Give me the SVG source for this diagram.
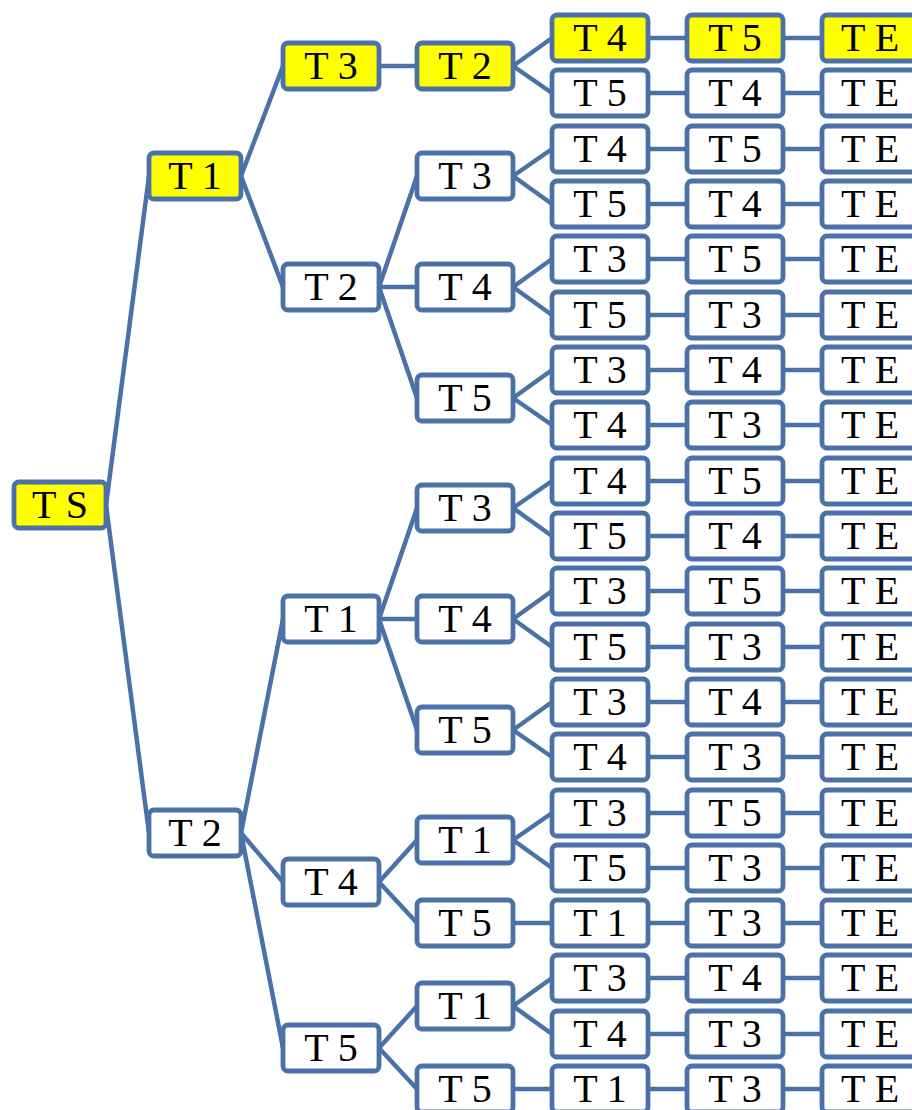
<svg xmlns="http://www.w3.org/2000/svg" width="912" height="1110" viewBox="0 0 912 1110">
<style>
.b{fill:#fff;stroke:#4a72a8;stroke-width:4.8}
.y{fill:#ffff00}
.t{font-family:"Liberation Serif","DejaVu Serif",serif;font-size:40px;text-anchor:middle;fill:#000}
.c line{stroke:#4a72a8;stroke-width:4.5;stroke-linecap:round}
</style>
<rect width="912" height="1110" fill="#fff"/>
<g id="connectors" class="c">
<line x1="106" y1="505" x2="149" y2="176"/><line x1="106" y1="505" x2="149" y2="833"/>
<line x1="241" y1="176" x2="283" y2="66"/><line x1="241" y1="176" x2="283" y2="287"/>
<line x1="241" y1="833" x2="283" y2="619"/><line x1="241" y1="833" x2="283" y2="882"/><line x1="241" y1="833" x2="283" y2="1048"/>
<line x1="379" y1="66" x2="417" y2="66"/>
<line x1="379" y1="287" x2="417" y2="176"/><line x1="379" y1="287" x2="417" y2="287"/><line x1="379" y1="287" x2="417" y2="398"/>
<line x1="379" y1="619" x2="417" y2="508"/><line x1="379" y1="619" x2="417" y2="619"/><line x1="379" y1="619" x2="417" y2="730"/>
<line x1="379" y1="882" x2="417" y2="840"/><line x1="379" y1="882" x2="417" y2="923"/>
<line x1="379" y1="1048" x2="417" y2="1006"/><line x1="379" y1="1048" x2="417" y2="1089"/>
<line x1="513" y1="66" x2="552" y2="38"/><line x1="513" y1="66" x2="552" y2="93"/>
<line x1="513" y1="176" x2="552" y2="149"/><line x1="513" y1="176" x2="552" y2="204"/>
<line x1="513" y1="287" x2="552" y2="259"/><line x1="513" y1="287" x2="552" y2="315"/>
<line x1="513" y1="398" x2="552" y2="370"/><line x1="513" y1="398" x2="552" y2="425"/>
<line x1="513" y1="508" x2="552" y2="481"/><line x1="513" y1="508" x2="552" y2="536"/>
<line x1="513" y1="619" x2="552" y2="591"/><line x1="513" y1="619" x2="552" y2="647"/>
<line x1="513" y1="730" x2="552" y2="702"/><line x1="513" y1="730" x2="552" y2="757"/>
<line x1="513" y1="840" x2="552" y2="813"/><line x1="513" y1="840" x2="552" y2="868"/>
<line x1="513" y1="923" x2="552" y2="923"/>
<line x1="513" y1="1006" x2="552" y2="978"/><line x1="513" y1="1006" x2="552" y2="1034"/>
<line x1="513" y1="1089" x2="552" y2="1089"/>
<line x1="648" y1="38" x2="822" y2="38"/><line x1="648" y1="93" x2="822" y2="93"/>
<line x1="648" y1="149" x2="822" y2="149"/><line x1="648" y1="204" x2="822" y2="204"/>
<line x1="648" y1="259" x2="822" y2="259"/><line x1="648" y1="315" x2="822" y2="315"/>
<line x1="648" y1="370" x2="822" y2="370"/><line x1="648" y1="425" x2="822" y2="425"/>
<line x1="648" y1="481" x2="822" y2="481"/><line x1="648" y1="536" x2="822" y2="536"/>
<line x1="648" y1="591" x2="822" y2="591"/><line x1="648" y1="647" x2="822" y2="647"/>
<line x1="648" y1="702" x2="822" y2="702"/><line x1="648" y1="757" x2="822" y2="757"/>
<line x1="648" y1="813" x2="822" y2="813"/><line x1="648" y1="868" x2="822" y2="868"/>
<line x1="648" y1="923" x2="822" y2="923"/><line x1="648" y1="978" x2="822" y2="978"/>
<line x1="648" y1="1034" x2="822" y2="1034"/><line x1="648" y1="1089" x2="822" y2="1089"/>
</g>
<g id="n_ts"><rect class="b y" x="14" y="482" width="92" height="46" rx="5"/><text class="t" x="60" y="518">T S</text></g>
<g id="n1_t1"><rect class="b y" x="149" y="153" width="92" height="46" rx="5"/><text class="t" x="195" y="189">T 1</text></g>
<g id="n1_t2"><rect class="b" x="149" y="810" width="92" height="46" rx="5"/><text class="t" x="195" y="846">T 2</text></g>
<g id="n2_a"><rect class="b y" x="283" y="43" width="96" height="46" rx="5"/><text class="t" x="331" y="79">T 3</text></g>
<g id="n2_b"><rect class="b" x="283" y="264" width="96" height="46" rx="5"/><text class="t" x="331" y="300">T 2</text></g>
<g id="n2_c"><rect class="b" x="283" y="596" width="96" height="46" rx="5"/><text class="t" x="331" y="632">T 1</text></g>
<g id="n2_d"><rect class="b" x="283" y="859" width="96" height="46" rx="5"/><text class="t" x="331" y="895">T 4</text></g>
<g id="n2_e"><rect class="b" x="283" y="1025" width="96" height="46" rx="5"/><text class="t" x="331" y="1061">T 5</text></g>
<g id="n3_a"><rect class="b y" x="417" y="43" width="96" height="46" rx="5"/><text class="t" x="465" y="79">T 2</text></g>
<g id="n3_b"><rect class="b" x="417" y="153" width="96" height="46" rx="5"/><text class="t" x="465" y="189">T 3</text></g>
<g id="n3_c"><rect class="b" x="417" y="264" width="96" height="46" rx="5"/><text class="t" x="465" y="300">T 4</text></g>
<g id="n3_d"><rect class="b" x="417" y="375" width="96" height="46" rx="5"/><text class="t" x="465" y="411">T 5</text></g>
<g id="n3_e"><rect class="b" x="417" y="485" width="96" height="46" rx="5"/><text class="t" x="465" y="521">T 3</text></g>
<g id="n3_f"><rect class="b" x="417" y="596" width="96" height="46" rx="5"/><text class="t" x="465" y="632">T 4</text></g>
<g id="n3_g"><rect class="b" x="417" y="707" width="96" height="46" rx="5"/><text class="t" x="465" y="743">T 5</text></g>
<g id="n3_h"><rect class="b" x="417" y="817" width="96" height="46" rx="5"/><text class="t" x="465" y="853">T 1</text></g>
<g id="n3_i"><rect class="b" x="417" y="900" width="96" height="46" rx="5"/><text class="t" x="465" y="936">T 5</text></g>
<g id="n3_j"><rect class="b" x="417" y="983" width="96" height="46" rx="5"/><text class="t" x="465" y="1019">T 1</text></g>
<g id="n3_k"><rect class="b" x="417" y="1066" width="96" height="46" rx="5"/><text class="t" x="465" y="1102">T 5</text></g>
<g id="n4_0"><rect class="b y" x="552" y="15" width="96" height="46" rx="5"/><text class="t" x="600" y="51">T 4</text></g>
<g id="n4_1"><rect class="b" x="552" y="70" width="96" height="46" rx="5"/><text class="t" x="600" y="106">T 5</text></g>
<g id="n4_2"><rect class="b" x="552" y="126" width="96" height="46" rx="5"/><text class="t" x="600" y="162">T 4</text></g>
<g id="n4_3"><rect class="b" x="552" y="181" width="96" height="46" rx="5"/><text class="t" x="600" y="217">T 5</text></g>
<g id="n4_4"><rect class="b" x="552" y="236" width="96" height="46" rx="5"/><text class="t" x="600" y="272">T 3</text></g>
<g id="n4_5"><rect class="b" x="552" y="292" width="96" height="46" rx="5"/><text class="t" x="600" y="328">T 5</text></g>
<g id="n4_6"><rect class="b" x="552" y="347" width="96" height="46" rx="5"/><text class="t" x="600" y="383">T 3</text></g>
<g id="n4_7"><rect class="b" x="552" y="402" width="96" height="46" rx="5"/><text class="t" x="600" y="438">T 4</text></g>
<g id="n4_8"><rect class="b" x="552" y="458" width="96" height="46" rx="5"/><text class="t" x="600" y="494">T 4</text></g>
<g id="n4_9"><rect class="b" x="552" y="513" width="96" height="46" rx="5"/><text class="t" x="600" y="549">T 5</text></g>
<g id="n4_10"><rect class="b" x="552" y="568" width="96" height="46" rx="5"/><text class="t" x="600" y="604">T 3</text></g>
<g id="n4_11"><rect class="b" x="552" y="624" width="96" height="46" rx="5"/><text class="t" x="600" y="660">T 5</text></g>
<g id="n4_12"><rect class="b" x="552" y="679" width="96" height="46" rx="5"/><text class="t" x="600" y="715">T 3</text></g>
<g id="n4_13"><rect class="b" x="552" y="734" width="96" height="46" rx="5"/><text class="t" x="600" y="770">T 4</text></g>
<g id="n4_14"><rect class="b" x="552" y="790" width="96" height="46" rx="5"/><text class="t" x="600" y="826">T 3</text></g>
<g id="n4_15"><rect class="b" x="552" y="845" width="96" height="46" rx="5"/><text class="t" x="600" y="881">T 5</text></g>
<g id="n4_16"><rect class="b" x="552" y="900" width="96" height="46" rx="5"/><text class="t" x="600" y="936">T 1</text></g>
<g id="n4_17"><rect class="b" x="552" y="955" width="96" height="46" rx="5"/><text class="t" x="600" y="991">T 3</text></g>
<g id="n4_18"><rect class="b" x="552" y="1011" width="96" height="46" rx="5"/><text class="t" x="600" y="1047">T 4</text></g>
<g id="n4_19"><rect class="b" x="552" y="1066" width="96" height="46" rx="5"/><text class="t" x="600" y="1102">T 1</text></g>
<g id="n5_0"><rect class="b y" x="687" y="15" width="96" height="46" rx="5"/><text class="t" x="735" y="51">T 5</text></g>
<g id="n5_1"><rect class="b" x="687" y="70" width="96" height="46" rx="5"/><text class="t" x="735" y="106">T 4</text></g>
<g id="n5_2"><rect class="b" x="687" y="126" width="96" height="46" rx="5"/><text class="t" x="735" y="162">T 5</text></g>
<g id="n5_3"><rect class="b" x="687" y="181" width="96" height="46" rx="5"/><text class="t" x="735" y="217">T 4</text></g>
<g id="n5_4"><rect class="b" x="687" y="236" width="96" height="46" rx="5"/><text class="t" x="735" y="272">T 5</text></g>
<g id="n5_5"><rect class="b" x="687" y="292" width="96" height="46" rx="5"/><text class="t" x="735" y="328">T 3</text></g>
<g id="n5_6"><rect class="b" x="687" y="347" width="96" height="46" rx="5"/><text class="t" x="735" y="383">T 4</text></g>
<g id="n5_7"><rect class="b" x="687" y="402" width="96" height="46" rx="5"/><text class="t" x="735" y="438">T 3</text></g>
<g id="n5_8"><rect class="b" x="687" y="458" width="96" height="46" rx="5"/><text class="t" x="735" y="494">T 5</text></g>
<g id="n5_9"><rect class="b" x="687" y="513" width="96" height="46" rx="5"/><text class="t" x="735" y="549">T 4</text></g>
<g id="n5_10"><rect class="b" x="687" y="568" width="96" height="46" rx="5"/><text class="t" x="735" y="604">T 5</text></g>
<g id="n5_11"><rect class="b" x="687" y="624" width="96" height="46" rx="5"/><text class="t" x="735" y="660">T 3</text></g>
<g id="n5_12"><rect class="b" x="687" y="679" width="96" height="46" rx="5"/><text class="t" x="735" y="715">T 4</text></g>
<g id="n5_13"><rect class="b" x="687" y="734" width="96" height="46" rx="5"/><text class="t" x="735" y="770">T 3</text></g>
<g id="n5_14"><rect class="b" x="687" y="790" width="96" height="46" rx="5"/><text class="t" x="735" y="826">T 5</text></g>
<g id="n5_15"><rect class="b" x="687" y="845" width="96" height="46" rx="5"/><text class="t" x="735" y="881">T 3</text></g>
<g id="n5_16"><rect class="b" x="687" y="900" width="96" height="46" rx="5"/><text class="t" x="735" y="936">T 3</text></g>
<g id="n5_17"><rect class="b" x="687" y="955" width="96" height="46" rx="5"/><text class="t" x="735" y="991">T 4</text></g>
<g id="n5_18"><rect class="b" x="687" y="1011" width="96" height="46" rx="5"/><text class="t" x="735" y="1047">T 3</text></g>
<g id="n5_19"><rect class="b" x="687" y="1066" width="96" height="46" rx="5"/><text class="t" x="735" y="1102">T 3</text></g>
<g id="n6_0"><rect class="b y" x="822" y="15" width="96" height="46" rx="5"/><text class="t" x="870" y="51">T E</text></g>
<g id="n6_1"><rect class="b" x="822" y="70" width="96" height="46" rx="5"/><text class="t" x="870" y="106">T E</text></g>
<g id="n6_2"><rect class="b" x="822" y="126" width="96" height="46" rx="5"/><text class="t" x="870" y="162">T E</text></g>
<g id="n6_3"><rect class="b" x="822" y="181" width="96" height="46" rx="5"/><text class="t" x="870" y="217">T E</text></g>
<g id="n6_4"><rect class="b" x="822" y="236" width="96" height="46" rx="5"/><text class="t" x="870" y="272">T E</text></g>
<g id="n6_5"><rect class="b" x="822" y="292" width="96" height="46" rx="5"/><text class="t" x="870" y="328">T E</text></g>
<g id="n6_6"><rect class="b" x="822" y="347" width="96" height="46" rx="5"/><text class="t" x="870" y="383">T E</text></g>
<g id="n6_7"><rect class="b" x="822" y="402" width="96" height="46" rx="5"/><text class="t" x="870" y="438">T E</text></g>
<g id="n6_8"><rect class="b" x="822" y="458" width="96" height="46" rx="5"/><text class="t" x="870" y="494">T E</text></g>
<g id="n6_9"><rect class="b" x="822" y="513" width="96" height="46" rx="5"/><text class="t" x="870" y="549">T E</text></g>
<g id="n6_10"><rect class="b" x="822" y="568" width="96" height="46" rx="5"/><text class="t" x="870" y="604">T E</text></g>
<g id="n6_11"><rect class="b" x="822" y="624" width="96" height="46" rx="5"/><text class="t" x="870" y="660">T E</text></g>
<g id="n6_12"><rect class="b" x="822" y="679" width="96" height="46" rx="5"/><text class="t" x="870" y="715">T E</text></g>
<g id="n6_13"><rect class="b" x="822" y="734" width="96" height="46" rx="5"/><text class="t" x="870" y="770">T E</text></g>
<g id="n6_14"><rect class="b" x="822" y="790" width="96" height="46" rx="5"/><text class="t" x="870" y="826">T E</text></g>
<g id="n6_15"><rect class="b" x="822" y="845" width="96" height="46" rx="5"/><text class="t" x="870" y="881">T E</text></g>
<g id="n6_16"><rect class="b" x="822" y="900" width="96" height="46" rx="5"/><text class="t" x="870" y="936">T E</text></g>
<g id="n6_17"><rect class="b" x="822" y="955" width="96" height="46" rx="5"/><text class="t" x="870" y="991">T E</text></g>
<g id="n6_18"><rect class="b" x="822" y="1011" width="96" height="46" rx="5"/><text class="t" x="870" y="1047">T E</text></g>
<g id="n6_19"><rect class="b" x="822" y="1066" width="96" height="46" rx="5"/><text class="t" x="870" y="1102">T E</text></g>
</svg>
